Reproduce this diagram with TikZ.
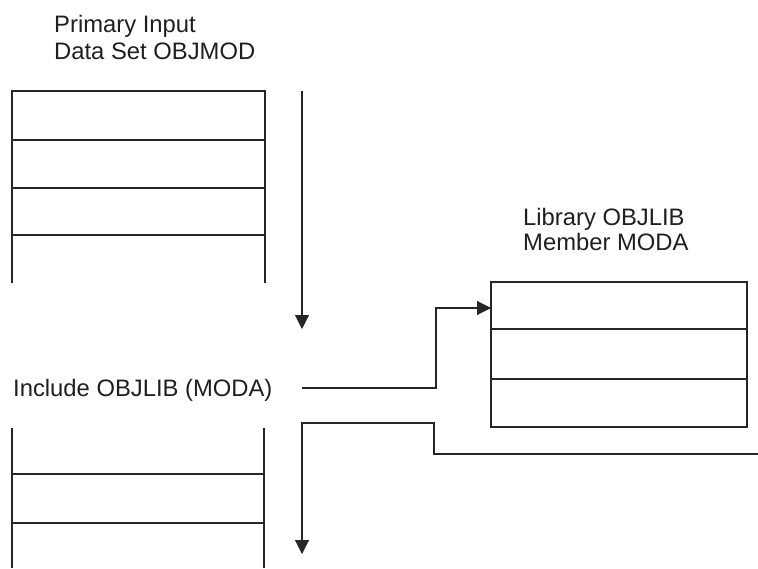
\documentclass[tikz,border=0pt]{standalone}
\usepackage{fontspec}
\setmainfont{Liberation Sans}
\usetikzlibrary{arrows.meta}
\begin{document}
\begin{tikzpicture}[x=1pt,y=-1pt,
  ln/.style={draw=black!85, line width=1.1pt},
  arr/.style={ln, -{Triangle[length=14pt,width=14pt]}},
  lbl/.style={anchor=base west, inner sep=0pt, text=black!88, font=\fontsize{23.8}{26}\selectfont}]
\useasboundingbox (0,0) rectangle (758,568);
% labels
\node[lbl] (p1) at (54,32) {Primary Input};
\node[lbl] (p2) at (54,59) {Data Set OBJMOD};
\node[lbl] (l1) at (523,225) {Library OBJLIB};
\node[lbl] (l2) at (523,250) {Member MODA};
\node[lbl] (inc) at (13,396) {Include OBJLIB (MODA)};
% top stack (open bottom)
\draw[ln] (12,283) -- (12,91) -- (265,91) -- (265,283);
\foreach \y in {140,188,235} \draw[ln] (12,\y) -- (265,\y);
% bottom stack (open top)
\draw[ln] (12,428) -- (12,568);
\draw[ln] (264,428) -- (264,568);
\foreach \y in {474,523} \draw[ln] (12,\y) -- (264,\y);
% library member box
\draw[ln] (491,282) rectangle (747,427);
\foreach \y in {329,379} \draw[ln] (491,\y) -- (747,\y);
% coordinates
\coordinate (a1s) at (302,91);
\coordinate (a1e) at (302,329);
\coordinate (is) at (302,388);
\coordinate (ie) at (491,308);
\coordinate (rs) at (758,454);
\coordinate (re) at (302,554);
% arrows
\draw[arr] (a1s) -- (a1e);
\draw[arr] (is) -- (436,388) -- (436,308) -- (ie);
\draw[arr] (rs) -- (434,454) -- (434,423) -- (302,423) -- (re);
\end{tikzpicture}
\end{document}
